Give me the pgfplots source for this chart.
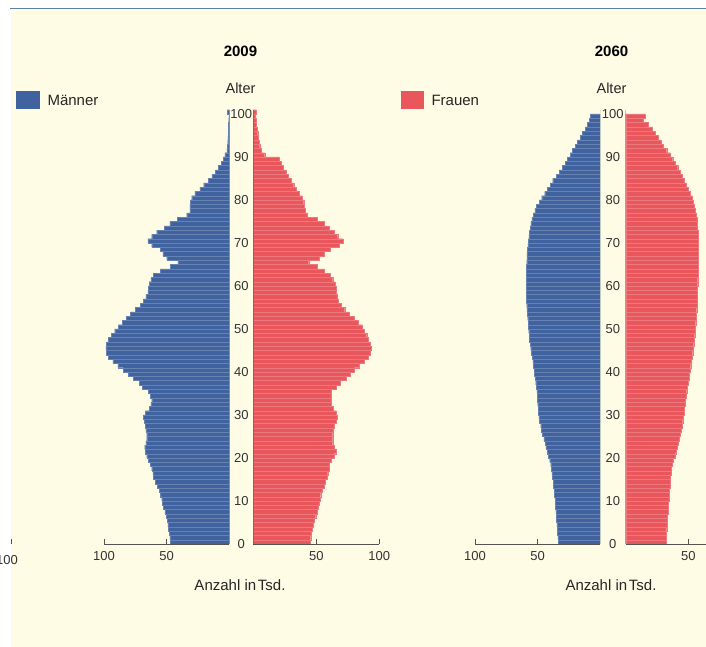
\documentclass[border=0pt]{standalone}
\usepackage{fontspec}
\setmainfont{Liberation Sans}
\usepackage{pgfplots}
\usepackage{pgfplotstable}
\pgfplotsset{compat=1.18}

\definecolor{mblue}{RGB}{64,99,160}
\definecolor{fred}{RGB}{233,86,92}
\definecolor{cream}{RGB}{254,252,229}
\definecolor{axisgray}{RGB}{85,85,80}
\definecolor{topline}{RGB}{95,125,165}

% Alter, Maenner, Frauen (Tsd.), 2009
\pgfplotstableread{
a m f
0 47 45
1 47.5 45.5
2 48 46
3 48.5 46.5
4 49 47.5
5 49.5 48.5
6 50.5 49.5
7 51.5 50.5
8 52.5 51.5
9 53.5 52.5
10 54 53
11 55 53.5
12 56 54.5
13 57.5 56
14 59 57
15 60.5 58.5
16 61 59
17 62 60
18 63 60.5
19 64.5 62
20 66 64
21 67 65.5
22 67.5 64.5
23 66.5 63
24 66 63
25 66 63
26 66.5 63.5
27 67 64.5
28 68 65.5
29 68.5 66.5
30 67 66
31 64 63.5
32 62.5 62
33 62 62
34 63 62
35 64.5 62
36 69.5 66
37 72 69
38 76.5 74
39 80.5 77
40 84.5 80
41 89 84
42 93 88
43 96.5 91.5
44 98 93
45 98.5 93.5
46 98 93
47 96.5 91
48 94 90
49 91.5 88
50 88.5 86.5
51 85.5 83.5
52 82 80
53 79 76
54 75 72.5
55 71 69.5
56 68.5 67.5
57 66.5 66.5
58 65 66
59 64.5 65.5
60 64 65
61 62.5 63
62 60.5 61
63 55 56
64 47 50.5
65 41 44
66 50 52
67 53 56
68 55 61
69 62 68
70 65 71
71 62 67
72 58 64
73 52 60
74 47.5 56
75 41.5 51
76 34 43
77 31.5 41
78 31.5 40.5
79 31 40
80 30 38.5
81 27.5 36.5
82 23.5 34
83 20.5 32
84 17 30
85 14 28
86 11 26
87 9 24
88 6.5 22
89 5 20.5
90 3.5 9
91 2 6
92 1.5 5
93 1.3 4.5
94 1.2 4
95 1 3.5
96 0.8 3
97 0.6 2.5
98 0.5 2
99 0.4 1.5
100 1.5 2.5
}\pyrA

% 2060
\pgfplotstableread{
a m f
0 33.5 32
1 33.8 32.2
2 34 32.5
3 34.3 32.7
4 34.5 32.9
5 34.8 33.1
6 35 33.4
7 35.3 33.7
8 35.6 34
9 35.8 34.2
10 36 34.4
11 36.4 34.7
12 36.8 35
13 37.2 35.2
14 37.6 35.5
15 38 35.7
16 38.5 36
17 39 36.5
18 39.5 37
19 40.3 38
20 41.3 39.3
21 42.3 40.3
22 43.3 41.2
23 44 42
24 45 42.7
25 46 43.4
26 46.8 44.2
27 47.5 45
28 48.5 45.5
29 49 46
30 49.3 46.6
31 49.6 46.9
32 49.9 47.2
33 50.1 47.4
34 50.3 48
35 50.6 48.7
36 51 49.2
37 51.5 49.8
38 52 50.4
39 52.4 50.9
40 52.8 51.4
41 53.3 51.9
42 53.8 52.4
43 54.4 53
44 55 53.5
45 55.5 54
46 56 54.3
47 56.4 54.7
48 56.8 55
49 57.1 55.3
50 57.3 55.5
51 57.6 55.8
52 57.9 56.1
53 58.2 56.4
54 58.5 56.6
55 58.7 56.8
56 58.9 57
57 59 57.1
58 59.1 57.2
59 59.2 57.3
60 59.2 57.4
61 59.1 57.5
62 59 57.6
63 58.9 57.8
64 58.8 57.9
65 58.7 58
66 58.6 58
67 58.5 58
68 58.2 58
69 57.8 58
70 57.4 58
71 57 57.8
72 56.5 57.6
73 55.9 57.3
74 55.3 57
75 54.6 56.8
76 53.5 56.2
77 52.2 55.5
78 50.8 54.7
79 48.8 53.8
80 46.7 52.8
81 44.3 51.4
82 42.1 50
83 40 48.4
84 37.9 46.7
85 35.2 45
86 32.6 43.4
87 30.3 41.5
88 28 39.5
89 26 37.5
90 24 35.4
91 22 32.7
92 20 30
93 18 28
94 16 26
95 14 23.4
96 12 20.8
97 10 17.8
98 8.5 14
99 8 15.5
}\pyrB

\pgfplotsset{
  pyr/.style={
    scale only axis,
    height=434.3pt,
    xmin=0, ymin=0, ymax=101,
    axis x line*=bottom,
    axis y line=none,
    axis line style={-, draw=axisgray, line width=0.9pt},
    tick style={draw=axisgray, line width=0.9pt},
    tick align=inside,
    major tick length=5pt,
    ytick=\empty,
    /pgf/number format/assume math mode=true,
    xticklabel style={font=\fontsize{13}{15}\selectfont, text=black!80, yshift=-4pt},
  },
  mbar/.style={xbar, bar width=1, bar shift=0, fill=mblue, draw=mblue!80!white, line width=0.2pt},
  fbar/.style={xbar, bar width=1, bar shift=0, fill=fred, draw=fred!80!white, line width=0.2pt},
}

\begin{document}
\begin{tikzpicture}
\useasboundingbox (0pt,0pt) rectangle (706pt,647pt);
\clip (0pt,0pt) rectangle (706pt,647pt);

\begin{scope}[x=1pt, y=1pt]
\fill[white] (0,0) rectangle (706,647);
\fill[cream] (11,0) rectangle (706,637.5);
\draw[topline, line width=1.6pt] (10,638.5) -- (706,638.5);
% remnant of the preceding panel
\draw[axisgray, line width=0.9pt] (11.5,103) -- (11.5,108);
\node[anchor=east, inner sep=0pt, font=\fontsize{13}{15}\selectfont, text=black!80] at (18,87) {100};
\end{scope}

% 2009
\begin{axis}[pyr, at={(229.3pt,103pt)}, anchor=south east, width=125.3pt,
  x dir=reverse, xmax=100, xtick={50,100}]
  \addplot[mbar] table[x=m, y expr=\thisrow{a}+0.5] {\pyrA};
  \draw[axisgray, line width=0.9pt] (axis cs:0,0) -- (axis cs:0,101);
\end{axis}
\begin{axis}[pyr, at={(253.3pt,103pt)}, anchor=south west, width=126pt,
  xmax=100, xtick={50,100}]
  \addplot[fbar] table[x=f, y expr=\thisrow{a}+0.5] {\pyrA};
  \draw[axisgray, line width=0.9pt] (axis cs:0,0) -- (axis cs:0,101);
\end{axis}

% 2060
\begin{axis}[pyr, at={(600pt,103pt)}, anchor=south east, width=125pt,
  x dir=reverse, xmax=100, xtick={50,100}]
  \addplot[mbar] table[x=m, y expr=\thisrow{a}+0.5] {\pyrB};
  \draw[axisgray, line width=0.9pt] (axis cs:0,0) -- (axis cs:0,101);
\end{axis}
\begin{axis}[pyr, at={(625.7pt,103pt)}, anchor=south west, width=80.3pt,
  xmax=64.1, xtick={50}]
  \addplot[fbar] table[x=f, y expr=\thisrow{a}+0.5] {\pyrB};
  \draw[axisgray, line width=0.9pt] (axis cs:0,0) -- (axis cs:0,101);
\end{axis}

\begin{scope}[x=1pt, y=1pt]
% age labels
\foreach \a in {0,10,...,100} {
  \node[font=\fontsize{13}{15}\selectfont, text=black!80, inner sep=0pt] at (241.3,103+4.3*\a) {\a};
  \node[font=\fontsize{13}{15}\selectfont, text=black!80, inner sep=0pt] at (612.8,103+4.3*\a) {\a};
}
% titles and labels
\node[font=\bfseries\fontsize{15}{17}\selectfont] at (240.5,596) {2009};
\node[font=\bfseries\fontsize{15}{17}\selectfont] at (611.5,596) {2060};
\node[font=\fontsize{14.5}{16}\selectfont, text=black!85] at (240.5,559) {Alter};
\node[font=\fontsize{14.5}{16}\selectfont, text=black!85] at (611.5,559) {Alter};
\node[font=\fontsize{15}{17}\selectfont, text=black!85] at (240,62) {Anzahl in\hspace{0.12em}Tsd.};
\node[font=\fontsize{15}{17}\selectfont, text=black!85] at (611,62) {Anzahl in\hspace{0.12em}Tsd.};
% legend
\fill[mblue] (16,538) rectangle (40,556);
\node[anchor=west, font=\fontsize{15}{17}\selectfont, text=black!85] at (44,547) {Männer};
\fill[fred] (400.5,538) rectangle (424,556);
\node[anchor=west, font=\fontsize{15}{17}\selectfont, text=black!85] at (428,547) {Frauen};
\end{scope}
\end{tikzpicture}
\end{document}
